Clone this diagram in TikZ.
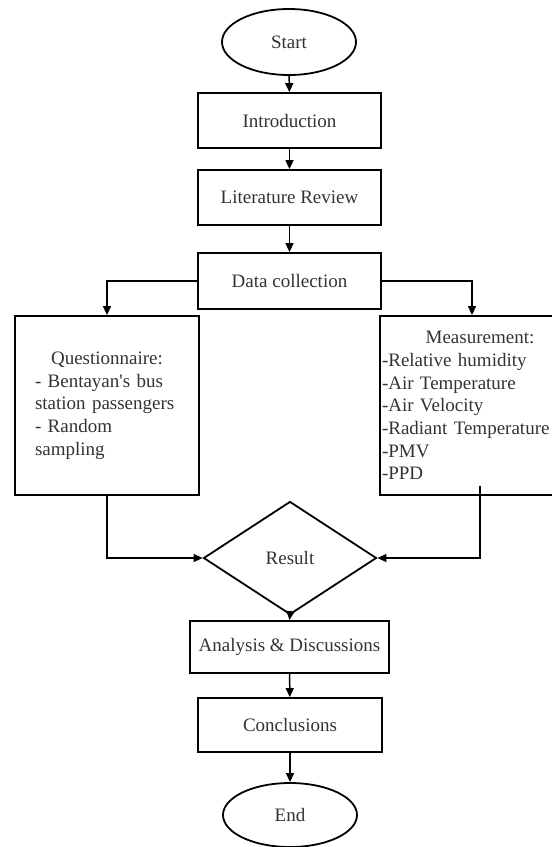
\documentclass[tikz,border=0pt]{standalone}
\usepackage{fontspec}
\setmainfont{Liberation Serif}
\usetikzlibrary{shapes.geometric,arrows.meta}
\begin{document}
\begin{tikzpicture}[x=1pt,y=-1pt,
  every node/.style={font=\fontsize{19}{22.7}\selectfont, text=black!80, inner sep=0pt},
  box/.style={draw=black, line width=1.8pt, rectangle},
  term/.style={draw=black, line width=1.8pt, ellipse, minimum width=134pt, minimum height=66pt},
  decide/.style={draw=black, line width=1.8pt, diamond, minimum width=173pt, minimum height=113pt},
  arr/.style={draw=black, line width=1.5pt, -{Triangle[length=9pt,width=8pt]}},
  conn/.style={draw=black, line width=1.5pt}]
\useasboundingbox (0,0) rectangle (552,847);
\node[term] (start) at (289,42) {Start};
\node[box, minimum width=183pt, minimum height=55pt] (intro) at (289.5,120.5) {Introduction};
\node[box, minimum width=183pt, minimum height=55pt] (lit) at (289.5,197.5) {Literature Review};
\node[box, minimum width=183pt, minimum height=56pt] (data) at (289.5,281) {Data collection};
\node[box, minimum width=183.5pt, minimum height=179pt, text width=144pt, align=left] (quest) at (107,405.5)
  {\makebox[\hsize][c]{Questionnaire:}\\- Bentayan\textquotesingle s bus\\station passengers\\- Random\\sampling};
\node[box, minimum width=200pt, minimum height=179pt, text width=196pt, align=left] (meas) at (480,405.5)
  {\makebox[\hsize][c]{Measurement:}\\-Relative humidity\\-Air Temperature\\-Air Velocity\\-Radiant Temperature\\-PMV\\-PPD};
\node[decide] (res) at (290,558) {Result};
\node[box, minimum width=199pt, minimum height=52pt] (ana) at (289.5,647) {Analysis \& Discussions};
\node[box, minimum width=184pt, minimum height=54pt] (conc) at (290,725) {Conclusions};
\node[term, minimum height=64pt] (end) at (290,815) {End};
\coordinate (mstart) at ([yshift=10pt]meas.south);
\draw[arr] (start) -- (intro);
\draw[arr] (intro) -- (lit);
\draw[arr] (lit) -- (data);
\draw[arr] (data.west) -| (quest.north);
\draw[arr] (data.east) -| ([xshift=-8pt]meas.north);
\draw[arr] (quest.south) |- (res.west);
\draw[arr] (mstart) |- (res.east);
\draw[arr] (res.south) -- (ana.north);
\draw[arr] (ana) -- (conc);
\draw[arr] (conc) -- (end);
\end{tikzpicture}
\end{document}
